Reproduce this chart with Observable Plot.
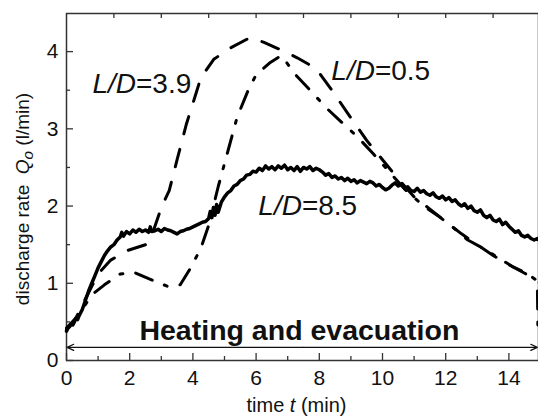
<!DOCTYPE html>
<html><head><meta charset="utf-8">
<script src="https://cdn.jsdelivr.net/npm/d3@7"></script>
<script src="https://cdn.jsdelivr.net/npm/@observablehq/plot@0.6"></script>
<style>
html,body{margin:0;padding:0;background:#fff;}
svg{font-family:"Liberation Sans",Arial,sans-serif;}
</style></head><body><div id="chart"></div>
<script>
// L/D = 8.5 (solid), [time (min), discharge rate (l/min)]
const ld85 = [[0,0.38],[0.05,0.42],[0.1,0.44],[0.15,0.47],[0.2,0.46],[0.25,0.5],[0.3,0.55],[0.35,0.53],[0.4,0.58],[0.5,0.66],[0.6,0.78],[0.7,0.9],[0.8,1.0],[0.9,1.1],[1.0,1.2],[1.1,1.28],[1.2,1.36],[1.3,1.42],[1.4,1.47],[1.5,1.5],[1.6,1.56],[1.7,1.6],[1.75,1.66],[1.8,1.61],[1.9,1.67],[2.0,1.64],[2.1,1.69],[2.2,1.66],[2.3,1.7],[2.4,1.67],[2.5,1.69],[2.6,1.66],[2.65,1.73],[2.7,1.67],[2.8,1.68],[2.9,1.7],[3.0,1.67],[3.1,1.71],[3.2,1.69],[3.3,1.68],[3.4,1.66],[3.5,1.64],[3.6,1.67],[3.7,1.68],[3.8,1.7],[3.9,1.71],[4.0,1.73],[4.1,1.75],[4.2,1.77],[4.3,1.79],[4.4,1.8],[4.5,1.84],[4.55,1.93],[4.6,1.85],[4.65,1.98],[4.7,1.88],[4.75,2.02],[4.8,1.92],[4.9,2.05],[5.0,2.12],[5.1,2.17],[5.2,2.2],[5.3,2.26],[5.4,2.28],[5.5,2.33],[5.6,2.35],[5.7,2.4],[5.8,2.41],[5.9,2.45],[6.0,2.44],[6.1,2.49],[6.2,2.46],[6.3,2.52],[6.4,2.48],[6.5,2.51],[6.6,2.47],[6.7,2.52],[6.8,2.49],[6.9,2.53],[7.0,2.47],[7.1,2.5],[7.2,2.46],[7.3,2.51],[7.4,2.45],[7.5,2.5],[7.6,2.48],[7.7,2.51],[7.8,2.46],[7.9,2.49],[8.0,2.47],[8.1,2.44],[8.2,2.4],[8.3,2.42],[8.4,2.37],[8.5,2.39],[8.6,2.35],[8.7,2.37],[8.8,2.33],[8.9,2.36],[9.0,2.32],[9.1,2.34],[9.2,2.3],[9.3,2.33],[9.4,2.31],[9.5,2.29],[9.6,2.32],[9.7,2.3],[9.8,2.26],[9.9,2.28],[10.0,2.24],[10.1,2.21],[10.2,2.23],[10.3,2.27],[10.4,2.3],[10.5,2.26],[10.6,2.28],[10.7,2.23],[10.8,2.25],[10.9,2.2],[11.0,2.19],[11.1,2.23],[11.2,2.18],[11.3,2.2],[11.4,2.16],[11.5,2.14],[11.6,2.17],[11.7,2.12],[11.8,2.1],[11.9,2.13],[12.0,2.08],[12.1,2.11],[12.2,2.06],[12.3,2.08],[12.4,2.03],[12.5,2.0],[12.6,2.03],[12.7,1.97],[12.8,2.0],[12.9,1.94],[13.0,1.92],[13.1,1.95],[13.2,1.88],[13.3,1.85],[13.4,1.88],[13.5,1.82],[13.6,1.8],[13.7,1.83],[13.8,1.76],[13.9,1.79],[14.0,1.74],[14.1,1.7],[14.2,1.66],[14.3,1.68],[14.4,1.62],[14.5,1.6],[14.6,1.62],[14.7,1.58],[14.8,1.56],[14.9,1.58],[15.0,1.54]];
// L/D = 3.9 (dashed)
const ld39 = [[0,0.42],[0.3,0.55],[0.6,0.8],[1.0,1.12],[1.4,1.3],[1.9,1.42],[2.5,1.5],[2.7,1.62],[3.0,1.98],[3.25,2.2],[3.5,2.6],[3.8,3.07],[4.1,3.46],[4.25,3.66],[4.66,3.9],[5.2,4.05],[5.8,4.18],[6.25,4.12],[6.8,4.02],[7.3,3.92],[7.9,3.78],[8.4,3.5],[8.9,3.2],[9.5,2.85],[10.0,2.6],[10.5,2.35],[11.0,2.12],[11.5,1.96],[12.0,1.8],[12.5,1.64],[13.0,1.5],[13.5,1.36],[14.0,1.24],[14.5,1.13],[15.0,1.0]];
// L/D = 0.5 (dash-dot)
const ld05 = [[0,0.4],[0.4,0.6],[0.8,0.85],[1.2,0.98],[1.7,1.12],[2.15,1.14],[2.6,1.06],[3.2,0.96],[3.6,0.98],[3.9,1.18],[4.25,1.45],[4.5,1.75],[4.8,2.25],[5.1,2.7],[5.4,3.15],[5.75,3.5],[6.0,3.7],[6.45,3.86],[6.8,3.95],[7.25,3.7],[7.8,3.46],[8.2,3.28],[8.8,3.05],[9.2,2.9],[9.7,2.68],[10.2,2.45],[10.7,2.22],[11.3,2.0],[11.8,1.86],[12.3,1.7],[12.7,1.56],[13.2,1.45],[13.7,1.32],[14.1,1.22],[14.6,1.12],[14.9,1.03],[14.92,0.35]];

const xMajorTicks = [0,2,4,6,8,10,12,14];
const xMinorTicks = [1,3,5,7,9,11,13];
const xTopTicks = [1.5,3,4.5,6,7.5,9,10.5,12,13.5];
const yMajorTicks = [0,1,2,3,4];
const yMinorTicks = [0.5,1.5,2.5,3.5];

const curveLabels = [
  {t:0.82, q:3.47, name:"L/D", value:"=3.9"},
  {t:8.38, q:3.63, name:"L/D", value:"=0.5"},
  {t:6.07, q:1.88, name:"L/D", value:"=8.5"}
];
const phaseLabel = [{t:7.37, q:0.26, text:"Heating and evacuation"}];
const phaseArrows = [{x1:7.5, x2:0.02, q:0.17}, {x1:7.5, x2:14.9, q:0.17}];
const yTitle = ["discharge rate Qo (l/min)"];
const xTitle = ["time t (min)"];

const axisColor = "#333";
const chart = Plot.plot({
  width: 538, height: 417,
  marginLeft: 66, marginRight: 0, marginTop: 13, marginBottom: 57,
  x: {domain:[0,15], range:[66,540], label:null},
  y: {domain:[0,4.5], range:[360,12.5], label:null},
  style: {fontFamily:'"Liberation Sans",Arial,sans-serif', background:"#fff"},
  marks: [
    Plot.frame({stroke: axisColor, strokeWidth: 1.5}),
    Plot.axisX(xMajorTicks, {anchor:"bottom", tickSize:-7, tickPadding:17, fontSize:21, tickFormat:d=>String(d), stroke:axisColor, strokeWidth:1.3, color:"#111"}),
    Plot.axisX(xMinorTicks, {anchor:"bottom", tickSize:-4, tickFormat:()=>"", stroke:axisColor, strokeWidth:1.3}),
    Plot.axisX(xTopTicks, {anchor:"top", tickSize:-4, tickFormat:()=>"", stroke:axisColor, strokeWidth:1.3}),
    Plot.axisY(yMajorTicks, {anchor:"left", tickSize:-7, tickPadding:15, fontSize:21, tickFormat:d=>String(d), stroke:axisColor, strokeWidth:1.3, color:"#111"}),
    Plot.axisY(yMinorTicks, {anchor:"left", tickSize:-4, tickFormat:()=>"", stroke:axisColor, strokeWidth:1.3}),
    Plot.arrow(phaseArrows, {x1:"x1", x2:"x2", y1:"q", y2:"q", stroke:"#111", strokeWidth:1.2, headLength:9, headAngle:50}),
    Plot.text(phaseLabel, {x:"t", y:"q", text:"text", fontSize:28.5, fontWeight:"bold", textAnchor:"middle", lineAnchor:"bottom", fill:"#111"}),
    Plot.line(ld85, {x:d=>d[0], y:d=>d[1], stroke:"#000", strokeWidth:3.5, strokeLinejoin:"round"}),
    Plot.line(ld39, {x:d=>d[0], y:d=>d[1], stroke:"#000", strokeWidth:3, strokeDasharray:"18,16"}),
    Plot.line(ld05, {x:d=>d[0], y:d=>d[1], stroke:"#000", strokeWidth:3, strokeDasharray:"18,13,3,13"}),
    Plot.text(curveLabels, {x:"t", y:"q", text:d=>d.name+d.value, fontSize:28, textAnchor:"start", lineAnchor:"bottom", fill:"#111", className:"ldlabel"}),
    Plot.text(yTitle, {frameAnchor:"left", dx:-38, dy:12, rotate:-90, fontSize:19, textAnchor:"middle", lineAnchor:"bottom", fill:"#111", className:"ytitle"}),
    Plot.text(xTitle, {frameAnchor:"bottom", dx:-6, dy:51, fontSize:20, textAnchor:"middle", lineAnchor:"bottom", fill:"#111", className:"xtitle"})
  ]
});
document.getElementById("chart").appendChild(chart);

function rich(textEl, parts) {
  while (textEl.firstChild) textEl.removeChild(textEl.firstChild);
  for (const p of parts) {
    const ts = document.createElementNS("http://www.w3.org/2000/svg", "tspan");
    ts.textContent = p.s;
    if (p.italic) ts.setAttribute("font-style", "italic");
    if (p.sub) { ts.setAttribute("baseline-shift", "-25%"); ts.setAttribute("font-size", "0.8em"); }
    textEl.appendChild(ts);
  }
}
d3.select(chart).selectAll(".ldlabel text").each(function(d, i) {
  const lab = curveLabels[i];
  rich(this, [{s:lab.name, italic:true}, {s:lab.value}]);
});
d3.select(chart).selectAll(".ytitle text").each(function() {
  rich(this, [{s:"discharge rate  "}, {s:"Q", italic:true}, {s:"o", italic:true, sub:true}, {s:" (l/min)"}]);
});
d3.select(chart).selectAll(".xtitle text").each(function() {
  rich(this, [{s:"time "}, {s:"t", italic:true}, {s:" (min)"}]);
});
</script></body></html>
